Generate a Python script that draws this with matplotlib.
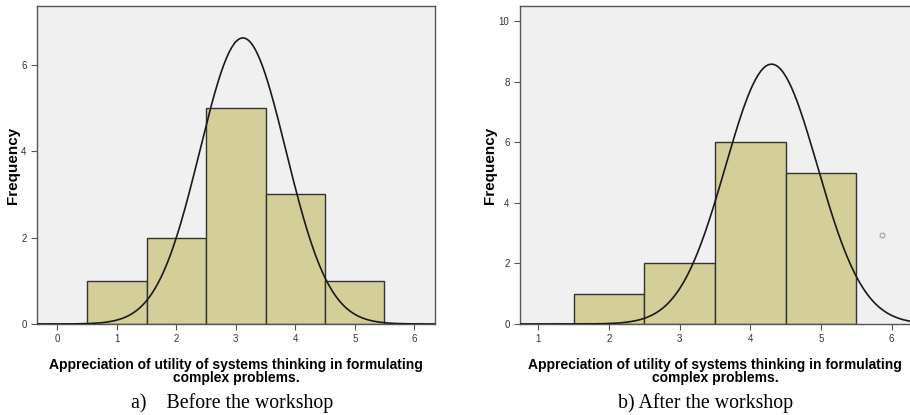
import numpy as np
import matplotlib.pyplot as plt

# histogram data
before_bins = [1, 2, 3, 4, 5]
before_freq = [1, 2, 5, 3, 1]
before_mean, before_sd, before_n = 3.12, 0.723, 12

after_bins = [2, 3, 4, 5]
after_freq = [1, 2, 6, 5]
after_mean, after_sd, after_n = 4.30, 0.651, 14
after_outlier = (5.86, 2.94)

xlabel = "Appreciation of utility of systems thinking in formulating\ncomplex problems."
bar_color = "#d4cf99"
bg_color = "#f0f0f0"


def draw_hist(ax, bins, freq, mean, sd, n, xlim, ylim, yticks, xticks, ylab_x):
    ax.set_facecolor(bg_color)
    ax.bar(bins, freq, width=1.0, color=bar_color, edgecolor="#333333", linewidth=1.0, zorder=2)
    xs = np.linspace(xlim[0] - 1, xlim[1] + 1, 400)
    ys = n / (sd * np.sqrt(2 * np.pi)) * np.exp(-0.5 * ((xs - mean) / sd) ** 2)
    ax.plot(xs, ys, color="#1a1a1a", linewidth=1.2, zorder=3)
    ax.set_xlim(*xlim)
    ax.set_ylim(*ylim)
    ax.set_xticks(xticks)
    ax.set_yticks(yticks)
    ax.tick_params(direction="out", length=4, width=0.8, colors="#555555",
                   labelcolor="#333333", labelsize=7)
    for s in ax.spines.values():
        s.set_color("#555555")
        s.set_linewidth(1.0)
    ax.set_ylabel("Frequency", fontsize=11, fontweight="bold", va="center")
    ax.yaxis.set_label_coords(ylab_x, 0.5)
    ax.set_xlabel(xlabel, fontsize=10, fontweight="bold", labelpad=10, linespacing=0.88)


plt.rcParams["font.family"] = ["Liberation Sans", "DejaVu Sans"]
fig = plt.figure(figsize=(9.1, 4.15), dpi=100)

ax1 = fig.add_axes([0.0407, 0.2193, 0.4374, 0.7662])
draw_hist(ax1, before_bins, before_freq, before_mean, before_sd, before_n,
          (-0.34, 6.35), (0, 7.36), [0, 2, 4, 6], range(0, 7), -0.060)

ax2 = fig.add_axes([0.5714, 0.2193, 0.4286, 0.7662])
draw_hist(ax2, after_bins, after_freq, after_mean, after_sd, after_n,
          (0.74, 6.26), (0, 10.5), [0, 2, 4, 6, 8, 10], range(1, 7), -0.077)
ax2.spines["right"].set_visible(False)
ax2.plot([after_outlier[0]], [after_outlier[1]], marker="o", markersize=3.5,
         markerfacecolor="none", markeredgecolor="#a0a0b8", markeredgewidth=0.8, zorder=4)

fig.text(232 / 910, 1 - 408 / 415, "a)    Before the workshop", ha="center", va="baseline",
         fontsize=14.3, family="Liberation Serif")
fig.text(706 / 910, 1 - 408 / 415, "b) After the workshop", ha="center", va="baseline",
         fontsize=14.3, family="Liberation Serif")

fig.savefig("out.png", dpi=100)
